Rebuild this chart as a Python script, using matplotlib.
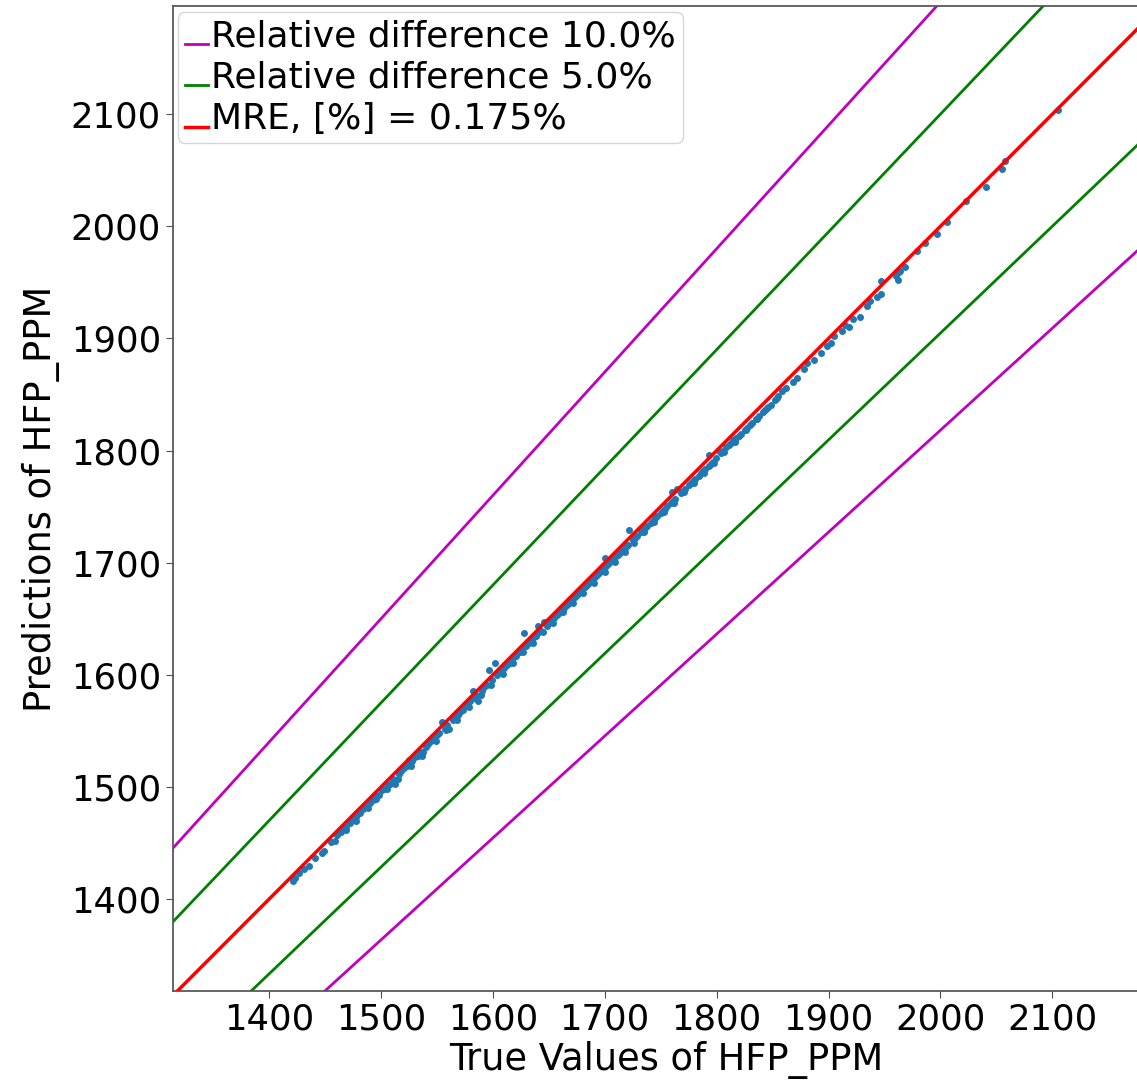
import matplotlib
matplotlib.use("Agg")
import matplotlib.pyplot as plt
import numpy as np
from matplotlib.legend_handler import HandlerLine2D

# true vs predicted HFP_PPM (test set)
true_ppm = [
    1421, 1423, 1427, 1431, 1436, 1441, 1447, 1449, 1455, 1459, 1461, 1464,
    1466, 1469, 1472, 1475, 1478, 1481, 1484, 1487, 1490, 1493, 1496, 1498,
    1501, 1503, 1506, 1508, 1511, 1513, 1516, 1518, 1521, 1523, 1525, 1528,
    1530, 1533, 1535, 1537, 1540, 1542, 1545, 1547, 1550, 1552, 1555, 1557,
    1559, 1561, 1564, 1566, 1569, 1571, 1573, 1576, 1578, 1580, 1583, 1585,
    1587, 1590, 1592, 1595, 1597, 1599,
    1602, 1604, 1606, 1608, 1610, 1613, 1615, 1617, 1619, 1621, 1624, 1626,
    1628, 1630, 1632, 1635, 1637, 1639, 1641, 1643, 1646, 1648, 1650, 1652,
    1655, 1657, 1659, 1661, 1664, 1666, 1668, 1670, 1673, 1675, 1677, 1679,
    1682, 1684, 1686, 1688, 1691, 1693, 1695, 1697, 1699,
    1701, 1703, 1705, 1708, 1710, 1712, 1714, 1716, 1719, 1721, 1722, 1725,
    1727, 1729, 1732, 1734, 1736, 1738, 1741, 1743, 1745, 1747, 1750, 1752,
    1754, 1756, 1759, 1761, 1763, 1765, 1768, 1770, 1772, 1775, 1777, 1779,
    1781, 1784, 1786, 1788, 1790, 1793, 1795, 1797, 1799,
    1802, 1804, 1806, 1808, 1811, 1813, 1815, 1817, 1820, 1822, 1825, 1827,
    1830, 1832, 1835, 1838, 1841, 1843, 1846, 1849, 1852, 1855, 1858,
    1862, 1868, 1872, 1878, 1881, 1887, 1893, 1899, 1902, 1905, 1912, 1915,
    1918, 1922, 1928, 1934, 1937, 1943, 1947, 1947, 1960, 1962, 1963, 1964,
    1968, 1979, 1986, 1997, 2006, 2023, 2041, 2055, 2058, 2105,
    # lower edge of the band
    1469, 1478, 1488, 1496, 1505, 1515, 1527, 1538, 1549, 1558, 1568, 1579,
    1589, 1598, 1609, 1618, 1627, 1636, 1645, 1654, 1663, 1672, 1681, 1690,
    1700, 1709, 1718, 1726, 1735, 1744, 1753, 1762, 1771, 1780, 1789, 1798,
    1807, 1816, 1826, 1836, 1845, 1854,
    # just above the 1:1 line
    1582, 1640, 1700, 1760, 1793,
]
pred_ppm = [
    1416, 1419, 1423, 1427, 1430, 1437, 1441, 1443, 1451, 1452, 1457, 1460,
    1463, 1464, 1468, 1471, 1473, 1477, 1480, 1482, 1486, 1488, 1492, 1493,
    1497, 1498, 1502, 1503, 1507, 1503, 1512, 1514, 1517, 1519, 1524, 1523,
    1527, 1528, 1531, 1528, 1536, 1538, 1541, 1543, 1546, 1548, 1558, 1552,
    1555, 1552, 1560, 1562, 1564, 1567, 1569, 1572, 1574, 1577, 1579, 1582,
    1577, 1586, 1589, 1591, 1604, 1595,
    1611, 1600, 1603, 1603, 1606, 1609, 1611, 1613, 1616, 1617, 1620, 1622,
    1637, 1626, 1628, 1631, 1634, 1635, 1638, 1639, 1647, 1644, 1646, 1649,
    1651, 1653, 1655, 1658, 1660, 1662, 1664, 1667, 1669, 1671, 1673, 1676,
    1678, 1680, 1682, 1685, 1687, 1689, 1691, 1693, 1696,
    1697, 1699, 1701, 1703, 1706, 1707, 1709, 1711, 1714, 1716, 1729, 1720,
    1722, 1724, 1727, 1729, 1731, 1733, 1735, 1737, 1740, 1742, 1744, 1746,
    1748, 1751, 1753, 1755, 1757, 1766, 1762, 1764, 1766, 1769, 1771, 1773,
    1775, 1777, 1780, 1782, 1784, 1786, 1788, 1790, 1793,
    1800, 1798, 1800, 1803, 1805, 1807, 1809, 1811, 1813, 1815, 1818, 1820,
    1823, 1825, 1828, 1831, 1834, 1836, 1839, 1841, 1845, 1849, 1853,
    1856, 1861, 1865, 1873, 1878, 1881, 1887, 1893, 1896, 1902, 1907, 1912,
    1910, 1917, 1919, 1929, 1933, 1937, 1940, 1951, 1956, 1952, 1959, 1960,
    1964, 1978, 1985, 1993, 2004, 2023, 2035, 2051, 2058, 2104,
    1462, 1470, 1481, 1489, 1498, 1507, 1519, 1531, 1541, 1551, 1560, 1571,
    1582, 1591, 1601, 1611, 1620, 1628, 1638, 1646, 1656, 1664, 1673, 1682,
    1692, 1701, 1710, 1718, 1727, 1736, 1745, 1753, 1763, 1771, 1780, 1789,
    1799, 1808, 1818, 1828, 1838, 1847,
    1586, 1644, 1704, 1763, 1796,
]
rel_diffs = [0.10, 0.05]
rel_colors = ["m", "g"]
mre_pct = 0.175
x_lim = (1314, 2196)
y_lim = (1318, 2196)


class LowLine(HandlerLine2D):
    # legend handle drawn near the text baseline
    def create_artists(self, legend, orig_handle, xdescent, ydescent,
                       width, height, fontsize, trans):
        arts = super().create_artists(legend, orig_handle, xdescent, ydescent,
                                      width, height, fontsize, trans)
        for a in arts:
            a.set_ydata(np.asarray(a.get_ydata()) - 0.42 * height)
        return arts


plt.rcParams["font.family"] = "DejaVu Sans"
fig = plt.figure(figsize=(11.37, 10.82), dpi=100)
ax = fig.add_axes([0.152, 0.084, 0.868, 0.91])

line_x = np.array([1200.0, 2300.0])
for r, c in zip(rel_diffs, rel_colors):
    lab = "Relative difference {:.1f}%".format(r * 100)
    ax.plot(line_x, line_x * (1 + r), color=c, lw=2, label=lab)
    ax.plot(line_x, line_x / (1 + r), color=c, lw=2)

ax.scatter(true_ppm, pred_ppm, s=16, color="#1f77b4", zorder=3)
ax.plot(line_x, line_x, color="r", lw=2.5, zorder=4,
        label="MRE, [%] = {}%".format(mre_pct))

ax.set_xlim(*x_lim)
ax.set_ylim(*y_lim)
ax.set_xticks(np.arange(1400, 2101, 100))
ax.set_yticks(np.arange(1400, 2101, 100))
ax.tick_params(labelsize=25.5, length=5, color="0.3")
for s in ax.spines.values():
    s.set_color("0.35")
    s.set_linewidth(1.3)

ax.set_xlabel("True Values of HFP_PPM", fontsize=26.5, labelpad=3)
ax.set_ylabel("Predictions of HFP_PPM", fontsize=26.5, labelpad=8)

ax.legend(loc="upper left", fontsize=26, handlelength=0.62,
          handletextpad=0.1, borderpad=0.2, borderaxespad=0.15,
          labelspacing=0.2, handler_map={plt.Line2D: LowLine()})

fig.savefig("out.png", dpi=100)
